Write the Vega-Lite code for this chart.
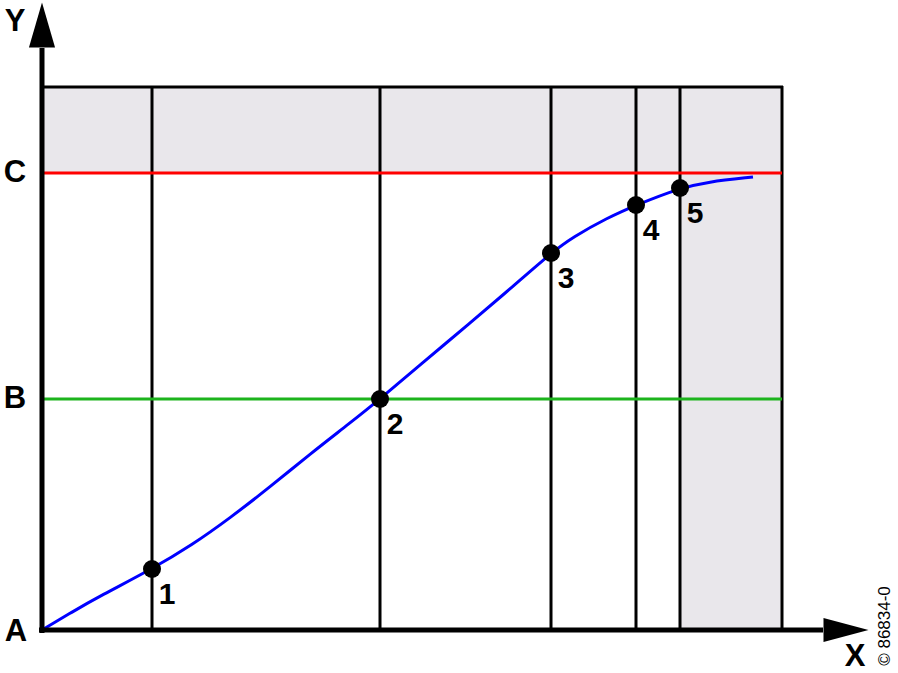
{
  "$schema": "https://vega.github.io/schema/vega-lite/v6.json",
  "width": 898,
  "height": 673,
  "autosize": "none",
  "padding": 0,
  "background": "white",
  "config": {"view": {"stroke": null}, "axis": {"disable": true}},
  "datasets": {
    "bands": [
      {"x1": 0, "x2": 740, "y1": 457, "y2": 543},
      {"x1": 638, "x2": 740, "y1": 0, "y2": 543}
    ],
    "vlines": [
      {"x": 110, "y1": 0, "y2": 543},
      {"x": 338, "y1": 0, "y2": 543},
      {"x": 509, "y1": 0, "y2": 543},
      {"x": 594, "y1": 0, "y2": 543},
      {"x": 638, "y1": 0, "y2": 543}
    ],
    "frameTop": [{"x1": -1, "x2": 741, "y": 543}],
    "frameRight": [{"x": 740, "y1": 0, "y2": 544}],
    "levels": [
      {"level": "C", "x1": 0, "x2": 740, "y": 457},
      {"level": "B", "x1": 0, "x2": 740, "y": 231}
    ],
    "curve": [
      {"x": 0, "y": 0}, {"x": 30, "y": 18}, {"x": 58, "y": 34}, {"x": 110, "y": 61},
      {"x": 150, "y": 85}, {"x": 188, "y": 112}, {"x": 228, "y": 143}, {"x": 268, "y": 176},
      {"x": 308, "y": 207}, {"x": 338, "y": 231}, {"x": 378, "y": 265}, {"x": 428, "y": 307},
      {"x": 468, "y": 341}, {"x": 509, "y": 377}, {"x": 531, "y": 393}, {"x": 565, "y": 412},
      {"x": 594, "y": 425}, {"x": 638, "y": 442}, {"x": 665, "y": 448}, {"x": 711, "y": 453}
    ],
    "yAxis": [{"x": 0, "y1": -3, "y2": 582}],
    "xAxis": [{"x1": -3, "x2": 781, "y": 0}],
    "yArrow": [{"x": 0, "y": 605}],
    "xArrow": [{"x": 804, "y": 0}],
    "points": [
      {"x": 110, "y": 61, "label": "1"},
      {"x": 338, "y": 231, "label": "2"},
      {"x": 509, "y": 377, "label": "3"},
      {"x": 594, "y": 425, "label": "4"},
      {"x": 638, "y": 442, "label": "5"}
    ],
    "letters": [
      {"x": -27, "y": 608, "t": "Y"},
      {"x": -27, "y": 457, "t": "C"},
      {"x": -27, "y": 231, "t": "B"},
      {"x": -26, "y": -2, "t": "A"},
      {"x": 813, "y": -27, "t": "X"}
    ],
    "copy": [{"x": 843, "y": 4, "t": "© 86834-0"}]
  },
  "layer": [
    {
      "data": {"name": "bands"},
      "mark": {"type": "rect", "color": "#e9e7eb"},
      "encoding": {
        "x": {"field": "x1", "type": "quantitative", "scale": {"domain": [-42, 856], "nice": false, "zero": false}},
        "x2": {"field": "x2"},
        "y": {"field": "y1", "type": "quantitative", "scale": {"domain": [-43, 630], "nice": false, "zero": false}},
        "y2": {"field": "y2"}
      }
    },
    {
      "data": {"name": "vlines"},
      "mark": {"type": "rule", "color": "black", "strokeWidth": 3},
      "encoding": {
        "x": {"field": "x", "type": "quantitative"},
        "y": {"field": "y1", "type": "quantitative"},
        "y2": {"field": "y2"}
      }
    },
    {
      "data": {"name": "frameTop"},
      "mark": {"type": "rule", "color": "black", "strokeWidth": 3},
      "encoding": {
        "x": {"field": "x1", "type": "quantitative"},
        "x2": {"field": "x2"},
        "y": {"field": "y", "type": "quantitative"}
      }
    },
    {
      "data": {"name": "frameRight"},
      "mark": {"type": "rule", "color": "black", "strokeWidth": 3},
      "encoding": {
        "x": {"field": "x", "type": "quantitative"},
        "y": {"field": "y1", "type": "quantitative"},
        "y2": {"field": "y2"}
      }
    },
    {
      "data": {"name": "levels"},
      "mark": {"type": "rule", "strokeWidth": 3},
      "encoding": {
        "x": {"field": "x1", "type": "quantitative"},
        "x2": {"field": "x2"},
        "y": {"field": "y", "type": "quantitative"},
        "color": {"field": "level", "type": "nominal", "scale": {"domain": ["C", "B"], "range": ["#ff0000", "#1db41d"]}, "legend": null}
      }
    },
    {
      "data": {"name": "curve"},
      "mark": {"type": "line", "color": "#0000ff", "strokeWidth": 3, "interpolate": "basis"},
      "encoding": {
        "x": {"field": "x", "type": "quantitative"},
        "y": {"field": "y", "type": "quantitative"}
      }
    },
    {
      "data": {"name": "yAxis"},
      "mark": {"type": "rule", "color": "black", "strokeWidth": 5},
      "encoding": {
        "x": {"field": "x", "type": "quantitative"},
        "y": {"field": "y1", "type": "quantitative"},
        "y2": {"field": "y2"}
      }
    },
    {
      "data": {"name": "xAxis"},
      "mark": {"type": "rule", "color": "black", "strokeWidth": 5},
      "encoding": {
        "x": {"field": "x1", "type": "quantitative"},
        "x2": {"field": "x2"},
        "y": {"field": "y", "type": "quantitative"}
      }
    },
    {
      "data": {"name": "yArrow"},
      "mark": {"type": "point", "shape": "M0,-1L0.58,1L-0.58,1Z", "size": 2025, "filled": true, "color": "black", "opacity": 1},
      "encoding": {
        "x": {"field": "x", "type": "quantitative"},
        "y": {"field": "y", "type": "quantitative"}
      }
    },
    {
      "data": {"name": "xArrow"},
      "mark": {"type": "point", "shape": "M1,0L-1,-0.53L-1,0.53Z", "size": 2025, "filled": true, "color": "black", "opacity": 1},
      "encoding": {
        "x": {"field": "x", "type": "quantitative"},
        "y": {"field": "y", "type": "quantitative"}
      }
    },
    {
      "data": {"name": "points"},
      "mark": {"type": "point", "shape": "circle", "size": 324, "filled": true, "color": "black", "opacity": 1},
      "encoding": {
        "x": {"field": "x", "type": "quantitative"},
        "y": {"field": "y", "type": "quantitative"}
      }
    },
    {
      "data": {"name": "points"},
      "mark": {"type": "text", "font": "Liberation Sans", "fontWeight": "bold", "fontSize": 30, "align": "center", "baseline": "middle", "dx": 15, "dy": 26, "color": "black"},
      "encoding": {
        "x": {"field": "x", "type": "quantitative"},
        "y": {"field": "y", "type": "quantitative"},
        "text": {"field": "label"}
      }
    },
    {
      "data": {"name": "letters"},
      "mark": {"type": "text", "font": "Liberation Sans", "fontWeight": "bold", "fontSize": 31, "align": "center", "baseline": "middle", "color": "black"},
      "encoding": {
        "x": {"field": "x", "type": "quantitative"},
        "y": {"field": "y", "type": "quantitative"},
        "text": {"field": "t"}
      }
    },
    {
      "data": {"name": "copy"},
      "mark": {"type": "text", "font": "Liberation Sans", "fontSize": 17, "align": "center", "baseline": "middle", "angle": 270, "color": "black"},
      "encoding": {
        "x": {"field": "x", "type": "quantitative"},
        "y": {"field": "y", "type": "quantitative"},
        "text": {"field": "t"}
      }
    }
  ]
}
